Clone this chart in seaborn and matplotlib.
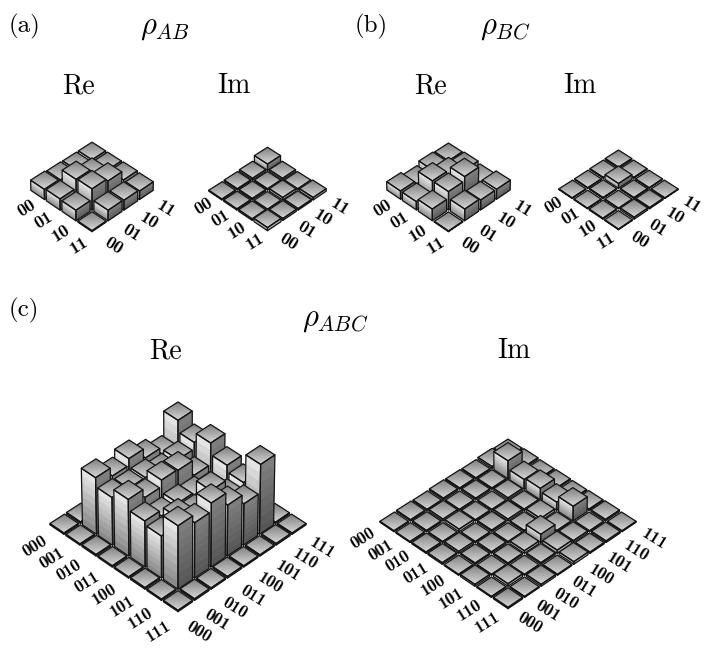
import numpy as np
import matplotlib
matplotlib.use("Agg")
import matplotlib.pyplot as plt
import seaborn as sns
from mpl_toolkits.mplot3d import proj3d
from mpl_toolkits.mplot3d.art3d import Poly3DCollection

labels2 = ["00", "01", "10", "11"]
labels3 = ["000", "001", "010", "011", "100", "101", "110", "111"]

# rows = first label (left edge), columns = second label (right edge)
ab_re = [[.031, .028, .027, .027],
         [.034, .061, .040, .027],
         [.032, .064, .056, .028],
         [.003, .032, .030, .026]]
ab_im = [[.003, .004, .006, .020],
         [.004, .005, .004, .006],
         [.005, .003, .008, .004],
         [.010, .006, .005, .008]]
bc_re = [[.025, .015, .025, .022],
         [.025, .055, .040, .025],
         [.035, .055, .068, .020],
         [.002, .035, .030, .030]]
bc_im = [[.002, .002, .003, .004],
         [.002, .003, .015, .003],
         [.003, .002, .003, .002],
         [.002, .006, .004, .002]]
abc_re = [[.004, .005, .004, .004, .005, .004, .004, .004],
          [.004, .172, .145, .165, .135, .115, .185, .004],
          [.005, .145, .140, .140, .125, .130, .150, .005],
          [.004, .172, .145, .165, .162, .115, .180, .004],
          [.004, .140, .122, .128, .120, .102, .145, .004],
          [.005, .128, .150, .130, .166, .112, .125, .005],
          [.004, .192, .168, .194, .155, .126, .212, .004],
          [.004, .005, .004, .005, .004, .004, .005, .004]]
abc_im = [[.003, .004, .003, .005, .004, .003, .006, .003],
          [.003, .004, .006, .003, .005, .004, .055, .005],
          [.004, .003, .008, .004, .003, .006, .030, .003],
          [.005, .006, .003, .005, .006, .004, .035, .004],
          [.003, .004, .005, .003, .004, .008, .025, .003],
          [.006, .003, .004, .008, .025, .004, .045, .004],
          [.003, .008, .003, .005, .010, .006, .003, .005],
          [.004, .003, .006, .003, .008, .004, .005, .003]]

sns.set_theme(style="white", rc={"mathtext.fontset": "cm", "axes.unicode_minus": False,
                                 "axes.formatter.use_mathtext": True})
plt.rcParams["font.family"] = ["cmr10", "DejaVu Serif"]

FW, FH = 709, 649
fig = plt.figure(figsize=(FW / 100, FH / 100), dpi=100, facecolor="white")


def grey(v):
    return (v, v, v, 1.0)


def gradient_bar(ax, x, y, w, h, z):
    """A bar with shaded faces: strips first, black outline on top."""
    polys, cols = [], []
    m = 6
    t = np.linspace(0, 1, m + 1)
    for i in range(m):
        for j in range(m):
            a, b, c, d = t[i], t[i + 1], t[j], t[j + 1]
            polys.append([(x + a * w, y + c * w, h), (x + b * w, y + c * w, h),
                          (x + b * w, y + d * w, h), (x + a * w, y + d * w, h)])
            # darker towards the back corner
            cols.append(grey(0.82 - 0.36 * ((a + c) / 2)))
    if h > 0.012:
        k = 8
        s = np.linspace(0, 1, k + 1)
        for i in range(k):
            lo, hi = h * s[i], h * s[i + 1]
            mid = (s[i] + s[i + 1]) / 2
            polys.append([(x, y, lo), (x, y + w, lo), (x, y + w, hi), (x, y, hi)])
            cols.append(grey(0.52 + 0.40 * mid))
            polys.append([(x, y, lo), (x + w, y, lo), (x + w, y, hi), (x, y, hi)])
            cols.append(grey(0.33 + 0.17 * mid))
    strips = Poly3DCollection(polys, facecolors=cols, edgecolors=cols, linewidths=0.3, zorder=z + 0.2)
    ax.add_collection3d(strips, autolim=False)
    outline = [[(x, y, h), (x + w, y, h), (x + w, y + w, h), (x, y + w, h)],
               [(x, y, 0), (x, y + w, 0), (x, y + w, h), (x, y, h)],
               [(x, y, 0), (x + w, y, 0), (x + w, y, h), (x, y, h)]]
    edges = Poly3DCollection(outline, facecolors=(0, 0, 0, 0), edgecolors="#151515",
                             linewidths=0.9, zorder=z + 0.4)
    ax.add_collection3d(edges, autolim=False)


def panel(values, labels, left, right, bottom, z_per_unit, tick_size, xpad, ypad, spread, yshift):
    vals = np.array(values)
    n = len(labels)
    ax = fig.add_axes([0.2, 0.2, 0.5, 0.5], projection="3d")
    ax.set_proj_type("persp", focal_length=2.6)
    ax.view_init(elev=41, azim=-135)
    zmax = vals.max() * 1.02
    ax.set_xlim(0, n)
    ax.set_ylim(0, n)
    ax.set_zlim(0, zmax)
    ax.set_box_aspect((1, 1, zmax * z_per_unit), zoom=0.9)
    ax.computed_zorder = False
    w = 0.88
    off = (1 - w) / 2
    cells = sorted(((r, c) for r in range(n) for c in range(n)),
                   key=lambda rc: -(rc[1] + n - 1 - rc[0]))
    for k, (r, c) in enumerate(cells):
        ax.bar3d(c + off, n - 1 - r + off, 0, w, w, vals[r, c], color="#a9a9a9",
                 linewidth=0, shade=False, zorder=k + 2)
        gradient_bar(ax, c + off, n - 1 - r + off, w, vals[r, c], k + 2)
    spots = (np.arange(n) + 0.5 - n / 2) * spread + n / 2
    ax.set_xticks(spots)
    ax.set_xticklabels(labels, rotation=-32, fontsize=tick_size, ha="center", va="center", family="cmb10")
    ax.set_yticks(spots + yshift)
    ax.set_yticklabels(labels[::-1], rotation=32, fontsize=tick_size, ha="center", va="center", family="cmb10")
    ax.set_xlim(0, n)
    ax.set_ylim(0, n)
    ax.set_zticks([])
    ax.grid(False)
    for axis in (ax.xaxis, ax.yaxis, ax.zaxis):
        axis.set_pane_color((1, 1, 1, 0))
        axis.line.set_color((0, 0, 0, 0))
        axis._axinfo["tick"]["inward_factor"] = 0
        axis._axinfo["tick"]["outward_factor"] = 0
    ax.tick_params(axis="x", pad=xpad, colors="black")
    ax.tick_params(axis="y", pad=ypad, colors="black")
    ax.patch.set_alpha(0)

    # fit the axes so that the floor's corners land where they do in the reference
    for _ in range(4):
        fig.canvas.draw()
        M = ax.get_proj()

        def px(x, y):
            a, b, _ = proj3d.proj_transform(x, y, 0, M)
            return ax.transData.transform((a, b))
        pl, pr, pb = px(0, n), px(n, 0), px(0, 0)
        pos = ax.get_position()
        s = (right - left) / (pr[0] - pl[0])
        size = pos.width * FW * s
        cx0 = (pos.x0 + pos.width / 2) * FW
        cy0 = (pos.y0 + pos.height / 2) * FH
        cx = (left + right) / 2 + (cx0 - (pl[0] + pr[0]) / 2) * s
        cy = (FH - bottom) + (cy0 - pb[1]) * s
        ax.set_position([(cx - size / 2) / FW, (cy - size / 2) / FH, size / FW, size / FH])
    return ax


panel(ab_re, labels2, 29, 155, 233, 4.9, 13, 5, 2, 1.13, -0.3)
panel(ab_im, labels2, 207, 328, 232, 4.9, 13, 5, 2, 1.13, -0.3)
panel(bc_re, labels2, 385, 512, 233, 4.9, 13, 5, 2, 1.13, -0.3)
panel(bc_im, labels2, 557, 680, 231, 4.9, 13, 5, 2, 1.13, -0.3)
panel(abc_re, labels3, 48, 308, 613, 2.36, 12.5, 7, 6, 1.09, 0)
panel(abc_im, labels3, 378, 638, 610, 2.36, 12.5, 7, 6, 1.09, 0)


def label(x, y, s, size=20):
    fig.text(x / FW, 1 - y / FH, s, fontsize=size, ha="center", va="center", color="black")


label(24, 26, "(a)", 18)
label(165, 28, r"$\rho_{AB}$", 22)
label(371, 26, "(b)", 18)
label(505, 28, r"$\rho_{BC}$", 22)
label(78, 86, "Re")
label(234, 86, "Im")
label(430, 86, "Re")
label(580, 86, "Im")
label(24, 310, "(c)", 18)
label(335, 320, r"$\rho_{ABC}$", 22)
label(165, 351, "Re")
label(514, 351, "Im")

fig.savefig("out.png", dpi=100)
